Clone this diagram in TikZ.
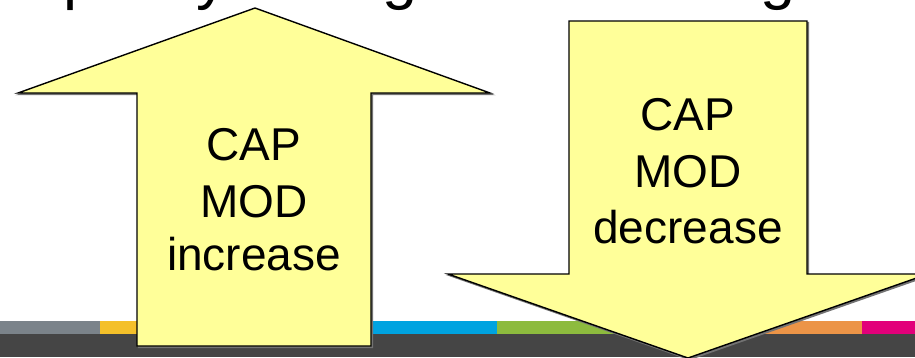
\documentclass[tikz,border=0pt]{standalone}
\usepackage{fontspec}
\setmainfont{Liberation Sans}
\definecolor{arrowyellow}{HTML}{FFFF99}
\definecolor{barsgray}{HTML}{7B838A}
\definecolor{barsyellow}{HTML}{F4C02A}
\definecolor{barsred}{HTML}{D9443A}
\definecolor{barsblue}{HTML}{00A3E0}
\definecolor{barsgreen}{HTML}{8DBB3E}
\definecolor{barsorange}{HTML}{EC9447}
\definecolor{barsmagenta}{HTML}{E2007A}
\definecolor{barsdark}{HTML}{454545}
\begin{document}
\begin{tikzpicture}[x=1pt,y=-1pt,
  bigarrow/.style={fill=arrowyellow, draw=black, line width=1.4pt, line join=miter},
  arrowshadow/.style={fill=black!55, draw=black!55, line width=1.4pt},
  lbl/.style={inner sep=0pt, anchor=base, font=\fontsize{46}{55}\selectfont},
  titletext/.style={inner sep=0pt, anchor=base west, font=\fontsize{63}{70}\selectfont}]
\useasboundingbox (0,0) rectangle (915,357);
\clip (0,0) rectangle (915,357);
% title (only its descenders show)
\node[titletext] (title) at (-17,-3) {Capacity change and loading};
% colour bar
\fill[barsgray] (0,321) rectangle (100,334);
\fill[barsyellow] (100,321) rectangle (250,334);
\fill[barsred] (250,321) rectangle (372,334);
\fill[barsblue] (372,321) rectangle (497,334);
\fill[barsgreen] (497,321) rectangle (690,334);
\fill[barsorange] (690,321) rectangle (862,334);
\fill[barsmagenta] (862,321) rectangle (915,334);
\fill[barsdark] (0,334) rectangle (915,357);
% up arrow
\path[arrowshadow, shift={(1.5,1.5)}] (255,8) -- (490,93) -- (371,93) -- (371,346) -- (137,346) -- (137,93) -- (18,93) -- cycle;
\path[bigarrow] (255,8) -- (490,93) -- (371,93) -- (371,346) -- (137,346) -- (137,93) -- (18,93) -- cycle;
% down arrow
\path[arrowshadow, shift={(1.5,1.5)}] (569,21) -- (807,21) -- (807,274) -- (928,274) -- (688,358) -- (448,274) -- (569,274) -- cycle;
\path[bigarrow] (569,21) -- (807,21) -- (807,274) -- (928,274) -- (688,358) -- (448,274) -- (569,274) -- cycle;
% labels
\node[lbl] (incA) at (254,160) {CAP};
\node[lbl] (incB) at (254,217) {MOD};
\node[lbl] (incC) at (254,270) {increase};
\node[lbl] (decA) at (688,130) {CAP};
\node[lbl] (decB) at (688,187) {MOD};
\node[lbl] (decC) at (688,243) {decrease};
\end{tikzpicture}
\end{document}
